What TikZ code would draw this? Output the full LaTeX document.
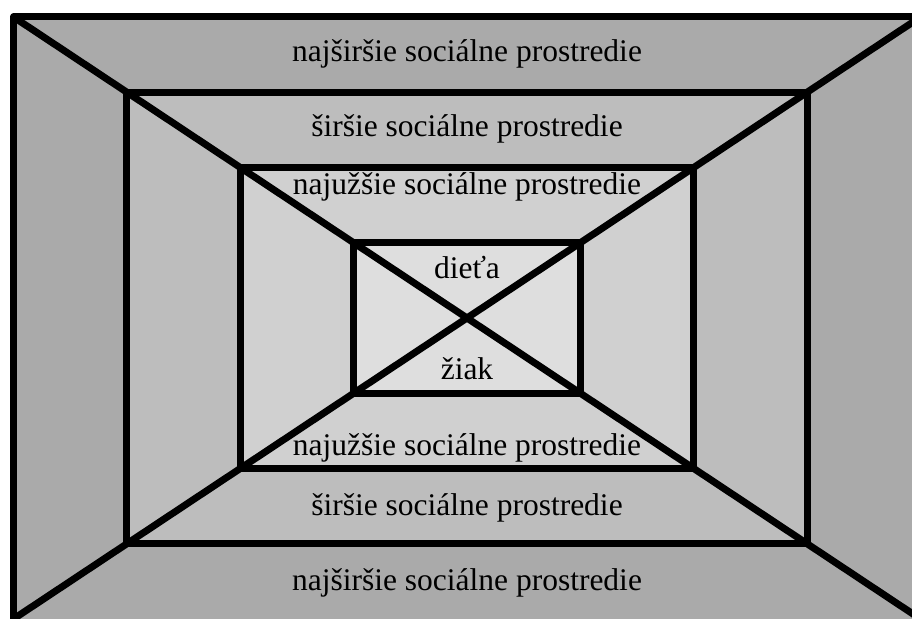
\documentclass[tikz,border=0pt]{standalone}
\usepackage{fontspec}
\setmainfont{Liberation Serif}
\definecolor{bandA}{HTML}{AAAAAA}
\definecolor{bandB}{HTML}{BDBDBD}
\definecolor{bandC}{HTML}{D0D0D0}
\definecolor{bandD}{HTML}{DEDEDE}

\begin{document}
\begin{tikzpicture}[x=1pt,y=1pt,
        frame/.style={line width=7pt,line join=round},
        lbl/.style={anchor=base,inner sep=0pt,font=\fontsize{31.5}{36}\selectfont}]
        \useasboundingbox (-467,-300) rectangle (445,318);
        \clip (-467,-300) rectangle (445,318);
        % grey bands, outside in
        \fill[bandA] (-453.5,-320) rectangle (470,301);
        \foreach \s/\c in {0.75/bandB,0.5/bandC,0.25/bandD}
                \fill[\c] (-453.5*\s,-301*\s) rectangle (453.5*\s,301*\s);
        \coordinate (tl) at (-453.5,301);
        \coordinate (tr) at (471.6,313);
        \coordinate (bl) at (-471.6,-313);
        \coordinate (br) at (471.6,-313);
        \begin{scope}
                \clip (-453.5,-320) rectangle (470,301);
                \draw[frame] (tl) -- (br);
                \draw[frame] (bl) -- (tr);
        \end{scope}
        % outer frame runs off the page at right and bottom
        \draw[frame] (-453.5,-320) rectangle (470,301);
        \foreach \s in {0.75,0.5,0.25}
                \draw[frame] (-453.5*\s,-301*\s) rectangle (453.5*\s,301*\s);
        \node[lbl] (outtop) at (0,256) {najširšie sociálne prostredie};
        \node[lbl] (midtop) at (0,181) {širšie sociálne prostredie};
        \node[lbl] (intop) at (0,123) {najužšie sociálne prostredie};
        \node[lbl] (child) at (0,39) {dieťa};
        \node[lbl] (pupil) at (0,-61) {žiak};
        \node[lbl] (inbot) at (0,-137) {najužšie sociálne prostredie};
        \node[lbl] (midbot) at (0,-197) {širšie sociálne prostredie};
        \node[lbl] (outbot) at (0,-272) {najširšie sociálne prostredie};
\end{tikzpicture}
\end{document}
